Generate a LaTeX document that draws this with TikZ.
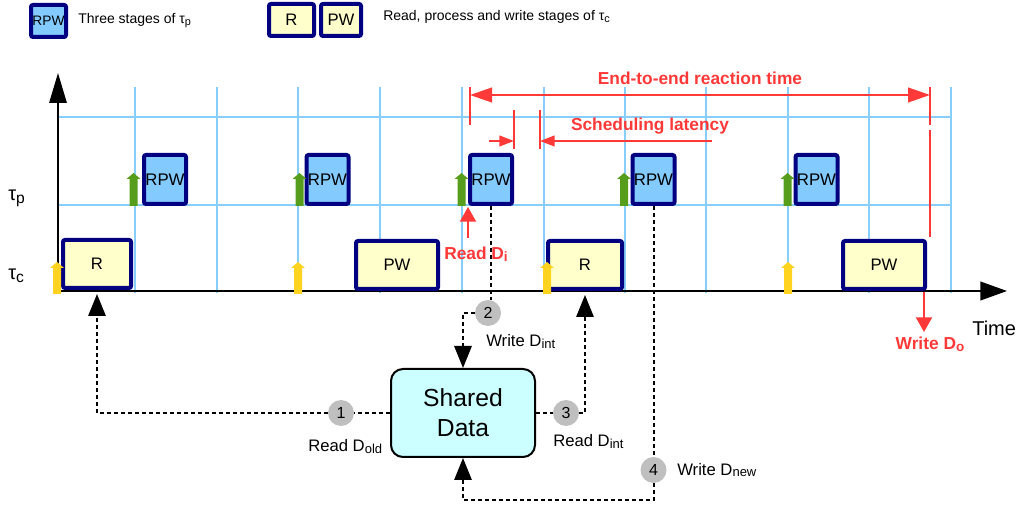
\documentclass[tikz,border=0pt]{standalone}
\usepackage{fontspec}
\setmainfont{Liberation Sans}
\usepackage{graphicx}
\usetikzlibrary{arrows.meta,calc}
\definecolor{gridblue}{HTML}{87CEFA}
\definecolor{boxblue}{HTML}{83CAFF}
\definecolor{navy}{HTML}{000080}
\definecolor{lyellow}{HTML}{FFFFCC}
\definecolor{cyanfill}{HTML}{CCFFFF}
\definecolor{myred}{HTML}{FF3838}
\definecolor{mygreen}{HTML}{579D1C}
\definecolor{myyellow}{HTML}{FFD320}
\definecolor{circgray}{HTML}{BFBFBF}
\newcommand\lsub[1]{\raisebox{-0.2ex}{\scalebox{0.78}{#1}}}
\newcommand\fatup[5]{\fill[#4] (#1-#5,#2) -- (#1-#5,#3+6) -- (#1-#5-3,#3+6) -- (#1,#3) -- (#1+#5+3,#3+6) -- (#1+#5,#3+6) -- (#1+#5,#2) -- cycle;}
\begin{document}
\begin{tikzpicture}[x=0.75pt,y=-0.75pt,
  gridl/.style={gridblue, line width=1.5pt},
  pbox/.style={draw=navy, line width=3pt, fill=boxblue, rounded corners=1.5pt, inner sep=0pt, minimum width=31.5pt, minimum height=36.75pt, font=\fontsize{12.6}{14}\selectfont},
  cbox/.style={draw=navy, line width=3pt, fill=lyellow, rounded corners=1.5pt, inner sep=0pt, minimum height=36pt, font=\fontsize{12.5}{14}\selectfont},
  num/.style={circle, fill=circgray, inner sep=0pt, minimum size=19.5pt, font=\fontsize{12}{14}\selectfont},
  dconn/.style={line width=1.5pt, dash pattern=on 3pt off 2.25pt},
  bigtip/.style={-{Triangle[length=16.5pt,width=13pt]}},
  redline/.style={myred, line width=1.5pt},
  redlab/.style={myred, inner sep=0pt, font=\fontsize{13}{15}\selectfont\bfseries},
  lab/.style={inner sep=0pt, font=\fontsize{12.5}{14}\selectfont},
  leglab/.style={inner sep=0pt, font=\fontsize{10.5}{12}\selectfont},
]
\useasboundingbox (0,0) rectangle (1017,505);
% legend
\node[pbox, minimum width=26.25pt, minimum height=24pt, font=\fontsize{10.3}{12}\selectfont] (lp) at (48.5,21) {RPW};
\node[leglab, anchor=base west] (lpt) at (78,24) {Three stages of τ\lsub{p}};
\node[cbox, minimum width=33.75pt, minimum height=24pt] (lr) at (291.5,20) {R};
\node[cbox, minimum width=30pt, minimum height=24pt] (lpw) at (341,20) {PW};
\node[leglab, anchor=base west] (lct) at (383,21) {Read, process and write stages of τ\lsub{c}};
% grid
\foreach \x in {135,217,298,380,462,544,625,706,788,869,951}
  \draw[gridl] (\x,87) -- (\x,293);
\draw[gridl] (58,117) -- (951,117);
\draw[gridl] (58,205) -- (951,205);
% axes
\coordinate (origin) at (58,291);
\coordinate (ytop) at (58,73);
\coordinate (xend) at (1007,291);
\draw[line width=1.5pt, -{Triangle[length=22.5pt,width=13pt]}] (origin) -- (ytop);
\draw[line width=1.5pt, -{Triangle[length=20pt,width=14pt]}] (origin) -- (xend);
\node[inner sep=0pt, anchor=base west, font=\fontsize{15}{17}\selectfont] (tp) at (8,201) {τ\lsub{p}};
\node[inner sep=0pt, anchor=base west, font=\fontsize{15}{17}\selectfont] (tc) at (8,280) {τ\lsub{c}};
\node[inner sep=0pt, anchor=base west, font=\fontsize{15}{17}\selectfont] (time) at (972,336) {Time};
% tau_p boxes
\node[pbox] (p1) at (165,179.5) {RPW};
\node[pbox] (p2) at (327.5,179.5) {RPW};
\node[pbox] (p3) at (491,179.5) {RPW};
\node[pbox] (p4) at (653.5,179.5) {RPW};
\node[pbox] (p5) at (816.5,179.5) {RPW};
% tau_c boxes
\node[cbox, minimum width=51pt] (r1) at (97,264) {R};
\node[cbox, minimum width=61.5pt] (w1) at (397,265) {PW};
\node[cbox, minimum width=55.5pt] (r2) at (585,265) {R};
\node[cbox, minimum width=61.5pt] (w2) at (884,265) {PW};
% release arrows
\foreach \x in {133.5,299.5,461.5,624,787.5} {\fatup{\x}{206}{173}{mygreen}{4}}
\foreach \x in {57,298,547,788} {\fatup{\x}{294}{262}{myyellow}{4}}
% shared data
\node[draw, line width=1.5pt, fill=cyanfill, rounded corners=9pt, minimum width=108pt, minimum height=66pt, align=center, font=\fontsize{18.5}{22.5}\selectfont] (sd) at (463,413) {Shared\\Data};
\node[num] (c1) at (341,413) {1};
\node[num] (c2) at (488,313) {2};
\node[num] (c3) at (566,413) {3};
\node[num] (c4) at (653.5,470) {4};
% dashed connectors
\draw[dconn] (sd.west) -- (c1.east);
\draw[dconn, bigtip, shorten >=3pt] (c1.west) -| (r1.south);
\draw[dconn] (p3.south) -- (p3.south |- c2.north);
\draw[dconn, bigtip] (c2.west) -| (sd.north);
\draw[dconn] (sd.east) -- (c3.west);
\draw[dconn, bigtip, shorten >=3pt] (c3.east) -| (r2.south);
\draw[dconn] (p4.south) -- (c4.north);
\draw[dconn, bigtip] (c4.south) -- ++(0,17) -| (sd.south);
% connector labels
\node[lab, anchor=base west] (l1) at (308,452) {Read D\lsub{old}};
\node[lab, anchor=base west] (l2) at (486,347) {Write D\lsub{int}};
\node[lab, anchor=base west] (l3) at (553,447) {Read D\lsub{int}};
\node[lab, anchor=base west] (l4) at (677,475) {Write D\lsub{new}};
% red annotations
\node[redlab, anchor=base] (e2e) at (700,85) {End-to-end reaction time};
\coordinate (e2eL) at (470,95);
\coordinate (e2eR) at (930,95);
\draw[redline] (470,87) -- (470,125);
\draw[redline] (930,87) -- (930,125);
\draw[redline] (930,130) -- (930,237);
\draw[redline, {Triangle[length=16.5pt,width=11pt]}-{Triangle[length=16.5pt,width=11pt]}] (e2eL) -- (e2eR);
\node[redlab, anchor=base] (sched) at (650,131) {Scheduling latency};
\coordinate (s1) at (514,141);
\coordinate (s2) at (540,141);
\draw[redline] (514,110) -- (514,149);
\draw[redline] (540,110) -- (540,149);
\draw[redline, -{Triangle[length=11pt,width=8pt]}] (489,141) -- (s1);
\draw[redline, -{Triangle[length=11pt,width=8pt]}] (712,141) -- (s2);
\node[redlab, anchor=base] (rdi) at (476,260) {Read D\lsub{i}};
\coordinate (rditip) at (468,207);
\draw[redline, -{Triangle[length=11pt,width=12pt]}] (468,238) -- (rditip);
\node[redlab, anchor=base] (wdo) at (930,350) {Write D\lsub{o}};
\coordinate (wdotip) at (924,332);
\draw[redline, -{Triangle[length=11pt,width=12pt]}] (924,292) -- (wdotip);
\end{tikzpicture}
\end{document}
